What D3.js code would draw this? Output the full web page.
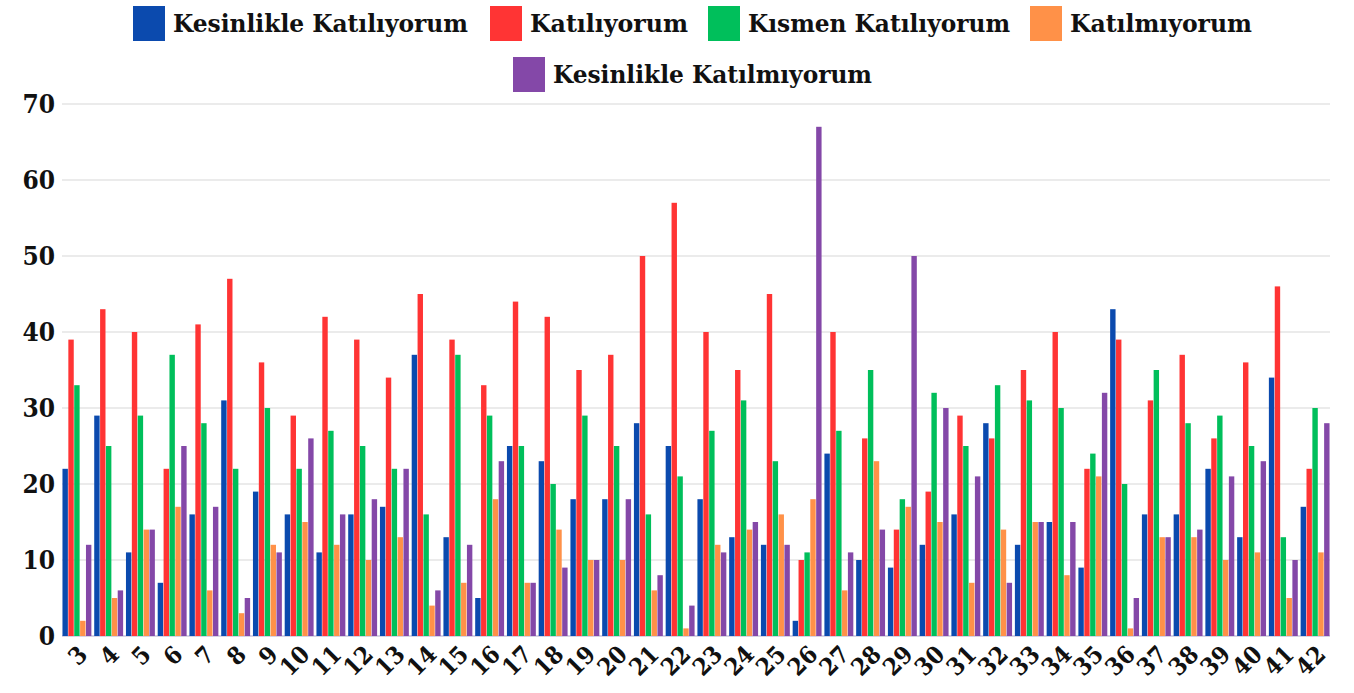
<html>
<head>
<meta charset="utf-8">
<script src="https://d3js.org/d3.v7.min.js"></script>
<style>
body { margin:0; background:#fff; }
.hv { font-family:"DejaVu Serif", serif; font-weight:bold; font-stretch:condensed; }
</style>
</head>
<body>
<svg id="chart" width="1354" height="693"></svg>
<script>
// categories (question numbers)
var cats = ["3","4","5","6","7","8","9","10","11","12","13","14","15","16","17","18","19","20","21","22",
            "23","24","25","26","27","28","29","30","31","32","33","34","35","36","37","38","39","40","41","42"];

var seriesNames = ["Kesinlikle Katılıyorum","Katılıyorum","Kısmen Katılıyorum","Katılmıyorum","Kesinlikle Katılmıyorum"];
var seriesColors = ["#0b4aae","#ff3434","#00bf5b","#ff9148","#8448a8"];

var kesinlikleKatiliyorum = [22,29,11,7,16,31,19,16,11,16,17,37,13,5,25,23,18,18,28,25,
                             18,13,12,2,24,10,9,12,16,28,12,15,9,43,16,16,22,13,34,17];
var katiliyorum           = [39,43,40,22,41,47,36,29,42,39,34,45,39,33,44,42,35,37,50,57,
                             40,35,45,10,40,26,14,19,29,26,35,40,22,39,31,37,26,36,46,22];
var kismenKatiliyorum     = [33,25,29,37,28,22,30,22,27,25,22,16,37,29,25,20,29,25,16,21,
                             27,31,23,11,27,35,18,32,25,33,31,30,24,20,35,28,29,25,13,30];
var katilmiyorum          = [2,5,14,17,6,3,12,15,12,10,13,4,7,18,7,14,10,10,6,1,
                             12,14,16,18,6,23,17,15,7,14,15,8,21,1,13,13,10,11,5,11];
var kesinlikleKatilmiyorum= [12,6,14,25,17,5,11,26,16,18,22,6,12,23,7,9,10,18,8,4,
                             11,15,12,67,11,14,50,30,21,7,15,15,32,5,13,14,21,23,10,28];

var yTicks = [0,10,20,30,40,50,60,70];

var allSeries = [kesinlikleKatiliyorum, katiliyorum, kismenKatiliyorum, katilmiyorum, kesinlikleKatilmiyorum];

var svg = d3.select("#chart");
var plotLeft = 62, plotRight = 1330, plotTop = 104, plotBottom = 636;

var x0 = d3.scaleBand().domain(cats).range([plotLeft, plotRight]).paddingInner(0.06).paddingOuter(0);
var x1 = d3.scaleBand().domain(d3.range(5)).range([0, x0.bandwidth()]).padding(0.08);
var y = d3.scaleLinear().domain([0, 70]).range([plotBottom, plotTop]);

// gridlines
svg.append("g").selectAll("line").data(yTicks).enter().append("line")
  .attr("x1", plotLeft).attr("x2", plotRight)
  .attr("y1", d => y(d)).attr("y2", d => y(d))
  .attr("stroke", d => d === 0 ? "#d6d3e3" : "#ebebeb")
  .attr("stroke-width", 2);

// y tick labels
svg.append("g").selectAll("text").data(yTicks).enter().append("text")
  .attr("class", "hv")
  .attr("x", 55).attr("y", d => y(d) + 9)
  .attr("text-anchor", "end")
  .attr("font-size", 26)
  .attr("fill", "#111")
  .text(d => d);

// bars
var rows = cats.map((c, i) => ({ cat: c, vals: allSeries.map(s => s[i]) }));
var groups = svg.append("g").selectAll("g").data(rows).enter().append("g")
  .attr("transform", d => "translate(" + x0(d.cat) + ",0)");

groups.selectAll("rect").data(d => d.vals.map((v, k) => ({ k: k, v: v }))).enter().append("rect")
  .attr("x", d => x1(d.k))
  .attr("y", d => y(d.v))
  .attr("width", x1.bandwidth())
  .attr("height", d => plotBottom - y(d.v))
  .attr("fill", d => seriesColors[d.k]);

// x labels
svg.append("g").selectAll("text").data(cats).enter().append("text")
  .attr("class", "hv")
  .attr("text-anchor", "end")
  .attr("font-size", 24)
  .attr("fill", "#111")
  .attr("transform", d => "translate(" + (x0(d) + x0.bandwidth() / 2 + 12) + ",656) rotate(-45)")
  .text(d => d);

// legend
var legendPos = [
  { sx: 133, row: 0 }, { sx: 490, row: 0 }, { sx: 708, row: 0 }, { sx: 1030, row: 0 }, { sx: 513, row: 1 }
];
var textW = [295, 158, 262, 182, 319];
var leg = svg.append("g").selectAll("g").data(seriesNames).enter().append("g")
  .attr("transform", (d, i) => "translate(" + legendPos[i].sx + "," + (legendPos[i].row ? 57 : 6) + ")");
leg.append("rect")
  .attr("width", 32).attr("height", 35)
  .attr("fill", (d, i) => seriesColors[i]);
leg.append("text")
  .attr("class", "hv")
  .attr("x", 40).attr("y", 26)
  .attr("font-size", 25)
  .attr("fill", "#111")
  .attr("textLength", (d, i) => textW[i])
  .attr("lengthAdjust", "spacingAndGlyphs")
  .text(d => d);
</script>
</body>
</html>
